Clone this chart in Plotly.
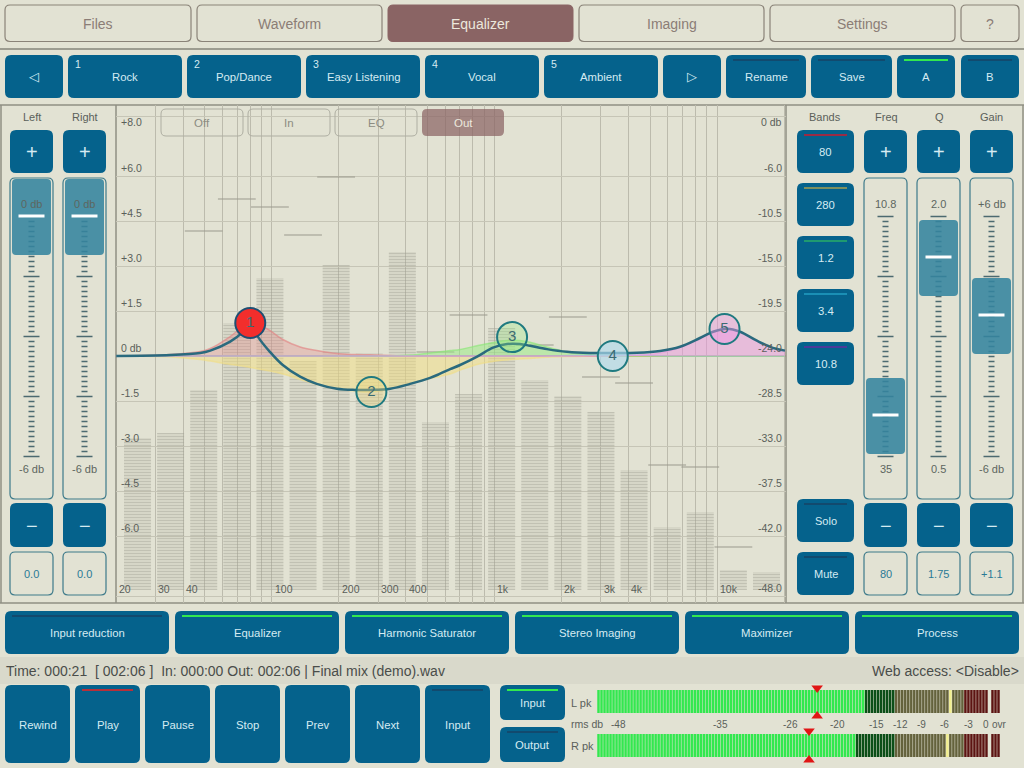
import math

import plotly.graph_objects as go

# spectrum bars (right hand scale, db)
band_labels = ["25", "35", "50", "71", "100", "141", "200", "283", "400", "566",
               "800", "1.1k", "1.6k", "2.3k", "3.2k", "4.5k", "6.4k", "9k", "12.8k", "18k"]
band_db = [-32.2, -31.7, -27.4, -20.7, -16.2, -24.5, -14.9, -23.7, -13.6, -30.6,
           -27.8, -21.2, -26.4, -28.0, -29.6, -35.4, -41.1, -39.6, -45.4, -45.6]
peak_db = [None, None, -11.5, -8.3, -9.1, -11.9, -6.1, None, None, -23.6,
           -19.9, None, -22.9, -20.1, -26.1, -26.7, -34.9, -35.1, -43.1, None]
floor_db = -47.4

# eq curves (freq in Hz, gain in db)
eq_freq = [20, 35, 47.7, 52.9, 65, 73.4, 80, 86.8, 98, 112,
           134, 159, 196, 237, 276, 340, 418, 514, 570, 632,
           701, 836, 986, 1140, 1300, 1445, 1722, 2118, 2687, 3412,
           4365, 5546, 6823, 8375, 9594, 11090, 12680, 15100, 17820, 20180]
eq_total = [0, .03, .1, .18, .48, .77, 1.1, .63, .14, -.3,
            -.69, -.93, -1.09, -1.13, -1.13, -1.09, -.93, -.73, -.59, -.44,
            -.3, -.02, .28, .4, .4, .34, .23, .14, .1, .1,
            .11, .17, .31, .6, .81, .91, .81, .51, .27, .18]
eq_band1 = [0, .05, .15, .25, .65, .95, 1.1, 1.05, .85, .55,
            .3, .18, .08, .05, .04, .02, 0, 0, 0, 0,
            0, 0, 0, 0, 0, 0, 0, 0, 0, 0,
            0, 0, 0, 0, 0, 0, 0, 0, 0, 0]
eq_band2 = [0, -.03, -.12, -.17, -.28, -.33, -.38, -.43, -.5, -.6,
            -.78, -.95, -1.1, -1.17, -1.2, -1.1, -.92, -.75, -.68, -.6,
            -.47, -.28, -.18, -.13, -.1, -.08, -.04, -.02, 0, 0,
            0, 0, 0, 0, 0, 0, 0, 0, 0, 0]
eq_band3 = [0, 0, 0, 0, 0, 0, 0, 0, 0, 0,
            0, 0, 0, 0, 0, 0, .03, .1, .14, .18,
            .22, .34, .45, .52, .52, .46, .3, .13, .04, .01,
            0, 0, 0, 0, 0, 0, 0, 0, 0, 0]
eq_band4 = [0, 0, 0, 0, 0, 0, 0, 0, 0, 0,
            0, 0, 0, 0, 0, 0, 0, 0, 0, 0,
            0, 0, 0, 0, 0, 0, 0, .01, .03, .04,
            .03, .01, 0, 0, 0, 0, 0, 0, 0, 0]
eq_band5 = [0, 0, 0, 0, 0, 0, 0, 0, 0, 0,
            0, 0, 0, 0, 0, 0, 0, 0, 0, 0,
            0, 0, 0, 0, 0, 0, 0, 0, 0, 0,
            .03, .1, .28, .57, .8, .91, .8, .5, .27, .18]

node_freq = [80, 280, 1200, 3400, 10800]
node_gain = [1.1, -1.2, .63, 0, .9]
node_names = ["1", "2", "3", "4", "5"]

freq_grid = [30, 40, 50, 60, 70, 80, 90, 100, 200, 300, 400, 500, 600, 700, 800, 900,
             1000, 2000, 3000, 4000, 5000, 6000, 7000, 8000, 9000, 10000, 20000]
freq_tick_vals = [20, 30, 40, 100, 200, 300, 400, 1000, 2000, 3000, 4000, 10000]
freq_tick_text = ["20", "30", "40", "100", "200", "300", "400", "1k", "2k", "3k", "4k", "10k"]
gain_grid = [8, 6, 4.5, 3, 1.5, -1.5, -3, -4.5, -6, -8]
gain_tick_vals = [8, 6, 4.5, 3, 1.5, 0, -1.5, -3, -4.5, -6]
gain_tick_text = ["+8.0", "+6.0", "+4.5", "+3.0", "+1.5", "0 db", "-1.5", "-3.0", "-4.5", "-6.0"]
level_tick_vals = [0, -6, -10.5, -15, -19.5, -24, -28.5, -33, -37.5, -42, -48]
level_tick_text = ["0 db", "-6.0", "-10.5", "-15.0", "-19.5", "-24.0", "-28.5", "-33.0", "-37.5", "-42.0", "-48.0"]

# level meters: number of segments per colour zone
meter_zones = ["lit", "dim", "olive", "yellow", "olive", "red", "gap", "red"]
meter_left = [89, 10, 18, 1, 4, 8, 1, 3]
meter_right = [86, 13, 17, 1, 5, 8, 1, 3]
meter_peak_left = 72.7
meter_peak_right = 70
meter_scale = ["-48", "-35", "-26", "-20", "-15", "-12", "-9", "-6", "-3", "0", "ovr"]

tabs = ["Files", "Waveform", "Equalizer", "Imaging", "Settings", "?"]
presets = ["Rock", "Pop/Dance", "Easy Listening", "Vocal", "Ambient"]
sections = ["Input reduction", "Equalizer", "Harmonic Saturator", "Stereo Imaging", "Maximizer", "Process"]
transport = ["Rewind", "Play", "Pause", "Stop", "Prev", "Next", "Input"]
band_buttons = ["80", "280", "1.2", "3.4", "10.8"]

BG = "#e2e2d3"
BLUE = "#05628c"
THUMB = "rgba(52,132,158,0.88)"
BTN_TEXT = "#d5ebf2"
NAVY = "#124a6e"
GREEN = "#33e84f"
FONT = "Liberation Sans"

shapes = []
notes = []


def X(px):
    return px / 1024


def Y(py):
    return 1 - py / 768


def rect(x0, y0, x1, y1, r=5, fill=BLUE, line=None, w=1, layer="above"):
    p = (f"M {X(x0 + r)} {Y(y0)} L {X(x1 - r)} {Y(y0)} Q {X(x1)} {Y(y0)} {X(x1)} {Y(y0 + r)} "
         f"L {X(x1)} {Y(y1 - r)} Q {X(x1)} {Y(y1)} {X(x1 - r)} {Y(y1)} "
         f"L {X(x0 + r)} {Y(y1)} Q {X(x0)} {Y(y1)} {X(x0)} {Y(y1 - r)} "
         f"L {X(x0)} {Y(y0 + r)} Q {X(x0)} {Y(y0)} {X(x0 + r)} {Y(y0)} Z")
    shapes.append(dict(type="path", xref="paper", yref="paper", path=p, fillcolor=fill,
                       line=dict(color=line or "rgba(0,0,0,0)", width=w if line else 0), layer=layer))


def hline(x0, x1, y, color, w=2, layer="above"):
    shapes.append(dict(type="line", xref="paper", yref="paper", x0=X(x0), x1=X(x1), y0=Y(y), y1=Y(y),
                       line=dict(color=color, width=w), layer=layer))


def vline(x, y0, y1, color, w=1.5, layer="above"):
    shapes.append(dict(type="line", xref="paper", yref="paper", x0=X(x), x1=X(x), y0=Y(y0), y1=Y(y1),
                       line=dict(color=color, width=w), layer=layer))


def label(x, y, text, size=12, color=BTN_TEXT, anchor="center"):
    notes.append(dict(xref="paper", yref="paper", x=X(x), y=Y(y), text=text, showarrow=False,
                      xanchor=anchor, yanchor="middle", borderpad=0,
                      font=dict(family=FONT, size=size, color=color)))


def button(x0, y0, x1, y1, text, size=11.3, mark=None):
    rect(x0, y0, x1, y1, r=6, fill=BLUE)
    if mark:
        hline(x0 + 7, x1 - 7, y0 + 5, mark)
    label((x0 + x1) / 2, (y0 + y1) / 2 + 0.5, text, size)


def slider(x0, thumb_y, value_top, value_bottom):
    rect(x0, 178, x0 + 43, 499, r=5, fill="rgba(0,0,0,0)", line="#3d7a8a", w=1.2)
    cx = x0 + 21.5
    p = ""
    for i in range(49):
        py = 216.5 + i * 5
        half = 8 if i % 12 == 0 else 3
        p += f"M {X(cx - half)} {Y(py)} L {X(cx + half)} {Y(py)} "
    shapes.append(dict(type="path", xref="paper", yref="paper", path=p, line=dict(color="#4c6a70", width=1.5), layer="above"))
    label(cx, 204, value_top, 11, "#5d6660")
    label(cx, 469, value_bottom, 11, "#5d6660")
    rect(x0 + 2, thumb_y - 37, x0 + 41, thumb_y + 39, r=4, fill=THUMB)
    hline(cx - 13, cx + 13, thumb_y, "#ffffff", 3)


# background and panels
rect(0, 657, 1024, 684, r=0, fill="#d9d9cb", layer="below")
hline(0, 1024, 49, "#9c9c90", 2, "below")
hline(0, 1024, 105, "#8f8f83", 1.5, "below")
hline(0, 1024, 603, "#8f8f83", 1.5, "below")
vline(1, 105, 603, "#8f8f83", 1.5, "below")
vline(1023, 105, 603, "#8f8f83", 1.5, "below")
vline(116, 105, 603, "#8f8f83", 1.5, "below")
vline(786, 105, 603, "#8f8f83", 1.5, "below")

# tabs
tab_x = [(5, 191), (197, 382), (388, 573), (579, 764), (770, 955), (961, 1019)]
for (x0, x1), name in zip(tab_x, tabs):
    if name == "Equalizer":
        rect(x0, 5, x1, 41.5, r=5, fill="#8a6464", line="#8a6464")
        label((x0 + x1) / 2, 23.5, name, 14, "#ece8dd")
    else:
        rect(x0, 5, x1, 41.5, r=5, fill="rgba(0,0,0,0)", line="#8a8378", w=1.2)
        label((x0 + x1) / 2, 23.5, name, 14, "#8b7d76")

# preset row
button(5, 55, 63, 98, "◁", 13)
for i, name in enumerate(presets):
    x0 = 68 + i * 119
    button(x0, 55, x0 + 114, 98, name)
    label(x0 + 6, 64, str(i + 1), 10.5, BTN_TEXT, "left")
button(663, 55, 721, 98, "▷", 13)
button(726, 55, 806, 98, "Rename", mark=NAVY)
button(811, 55, 892, 98, "Save", mark=NAVY)
button(897, 55, 955, 98, "A", mark=GREEN)
button(961, 55, 1019, 98, "B", mark=NAVY)

# display mode switches over the plot
for x0, name in zip([161, 248, 335], ["Off", "In", "EQ"]):
    rect(x0, 109, x0 + 82, 136, r=5, fill="rgba(0,0,0,0)", line="#aeaea2", w=1)
    label(x0 + 41, 123.5, name, 11.5, "#8c8c82")
rect(422, 109, 504, 136, r=5, fill="rgba(138,100,100,0.72)")
label(463, 123.5, "Out", 11.5, "#ece8dd")

# left column
label(32, 117, "Left", 11, "#5a5f5a")
label(85, 117, "Right", 11, "#5a5f5a")
for x0, val in [(10, "0.0"), (63, "0.0")]:
    button(x0, 130, x0 + 43, 173, "+", 20)
    slider(x0, 216, "0 db", "-6 db")
    button(x0, 503, x0 + 43, 547, "−", 20)
    rect(x0, 552, x0 + 43, 595, r=5, fill="rgba(0,0,0,0)", line="#3d7a8a", w=1.2)
    label(x0 + 21.5, 573.5, val, 11, "#2a7a96")

# right column
label(825, 117, "Bands", 11, "#5a5f5a")
label(886, 117, "Freq", 11, "#5a5f5a")
label(939, 117, "Q", 11, "#5a5f5a")
label(991, 117, "Gain", 11, "#5a5f5a")
band_y = [130, 183, 236, 289, 342]
band_marks = ["#9a2b45", "#7d9060", "#1f9a70", "#1a8fb5", "#4a3a9a"]
for y0, name, mark in zip(band_y, band_buttons, band_marks):
    button(797, y0, 854, y0 + 43, name, mark=mark)
button(797, 499, 854, 542, "Solo", 11, NAVY)
button(797, 552, 854, 595, "Mute", 11, NAVY)
columns = [(864, 415, "10.8", "35", "80"), (917, 257, "2.0", "0.5", "1.75"), (970, 315, "+6 db", "-6 db", "+1.1")]
for x0, thumb, hi, lo, val in columns:
    button(x0, 130, x0 + 43, 173, "+", 20)
    slider(x0, thumb, hi, lo)
    button(x0, 503, x0 + 43, 547, "−", 20)
    rect(x0, 552, x0 + 43, 595, r=5, fill="rgba(0,0,0,0)", line="#3d7a8a", w=1.2)
    label(x0 + 21.5, 573.5, val, 11, "#2a7a96")

# section row
for i, name in enumerate(sections):
    x0 = 5 + i * 170
    button(x0, 611, x0 + 164, 654, name, mark=NAVY if i == 0 else GREEN)

# status line
label(5, 671, "Time: 000:21 &nbsp;[ 002:06 ] &nbsp;In: 000:00 Out: 002:06 | Final mix (demo).wav", 14, "#4a4d4a", "left")
label(1020, 671, "Web access: &lt;Disable&gt;", 14, "#4a4d4a", "right")

# transport
for i, name in enumerate(transport):
    x0 = 5 + i * 70
    mark = "#b8303a" if name == "Play" else (NAVY if name == "Input" else None)
    button(x0, 685, x0 + 65, 763, name, mark=mark)
button(500, 685, 565, 720, "Input", mark=GREEN)
button(500, 727, 565, 762, "Output", mark=NAVY)

# meter captions
label(570, 703, "L pk", 11, "#5a5f5a", "left")
label(570, 746, "R pk", 11, "#5a5f5a", "left")
label(570, 724, "rms db", 10.5, "#5a5f5a", "left")
for px, text in zip([618, 720, 790, 837, 876, 900, 921, 944, 968, 986, 999], meter_scale):
    label(px, 724, text, 10, "#5a5f5a")

# axis captions sit just above their grid lines, or right of them for frequency
caption = dict(family=FONT, size=10.5, color="#5a5f5a")
for val, text in zip(gain_tick_vals, gain_tick_text):
    notes.append(dict(xref="paper", yref="y2", x=X(119), y=val, yshift=-6 if val == 8 else 8, text=text,
                      showarrow=False, xanchor="left", font=caption))
for val, text in zip(level_tick_vals, level_tick_text):
    notes.append(dict(xref="paper", yref="y", x=X(784), y=val, yshift=-6 if val == 0 else 8, text=text,
                      showarrow=False, xanchor="right", font=caption))
for val, text in zip(freq_tick_vals, freq_tick_text):
    notes.append(dict(xref="x2", yref="y2", x=math.log10(val), y=-7.77, xshift=1, text=text,
                      showarrow=False, xanchor="left", font=caption))

fig = go.Figure()

# spectrum
fig.add_trace(go.Bar(
    x=band_labels,
    y=[v - floor_db for v in band_db],
    base=floor_db,
    width=0.816,
    marker=dict(color="rgba(0,0,0,0)", line=dict(width=0),
                pattern=dict(shape="-", size=3, solidity=0.58, fgcolor="#a09f93", bgcolor="rgba(0,0,0,0)")),
    xaxis="x", yaxis="y",
))
fig.add_trace(go.Scatter(
    x=band_labels, y=peak_db, mode="markers", xaxis="x", yaxis="y",
    marker=dict(symbol="line-ew", size=27, line=dict(color="#9a998d", width=1)),
))

# eq bands
band_fills = [
    (eq_band1, "rgba(228,140,140,0.36)", "rgba(226,130,130,0.65)"),
    (eq_band2, "rgba(242,222,130,0.5)", "rgba(242,222,130,0.6)"),
    (eq_band3, "rgba(150,235,130,0.5)", "rgba(140,230,120,0.65)"),
    (eq_band4, "rgba(140,200,230,0.4)", "rgba(140,200,230,0.5)"),
    (eq_band5, "rgba(236,150,226,0.5)", "rgba(236,150,226,0.6)"),
]
for gains, fill, edge in band_fills:
    fig.add_trace(go.Scatter(
        x=eq_freq, y=gains, mode="lines", fill="tozeroy", fillcolor=fill,
        line=dict(color=edge, width=1.5, shape="spline"), xaxis="x2", yaxis="y2",
    ))
fig.add_trace(go.Scatter(
    x=eq_freq, y=eq_total, mode="lines", line=dict(color="#2a6a7e", width=2.5, shape="spline"),
    xaxis="x2", yaxis="y2",
))
fig.add_trace(go.Scatter(
    x=node_freq, y=node_gain, mode="markers+text", text=node_names, textposition="middle center",
    textfont=dict(family=FONT, size=15, color="#3b6b72"),
    marker=dict(size=30,
                color=["#f22e2c", "rgba(240,222,130,0.35)", "rgba(150,235,130,0.3)",
                       "rgba(175,218,236,0.65)", "rgba(236,150,226,0.45)"],
                line=dict(color=["#1d4f73", "#1f7a80", "#1f7a80", "#1f7a80", "#1f7a80"], width=2)),
    xaxis="x2", yaxis="y2",
))

# meters
zone_colors = {"lit": GREEN, "dim": "#0c4f18", "olive": "#64623c", "yellow": "#f2ef8e",
               "red": "#5c1412", "gap": "rgba(0,0,0,0)"}
for counts, base, peak, tips in [(meter_left, 51, meter_peak_left, (76, 48)),
                                 (meter_right, 7, meter_peak_right, (33, 4))]:
    colors = []
    for zone, n in zip(meter_zones, counts):
        colors += [zone_colors[zone]] * n
    fig.add_trace(go.Bar(
        x=list(range(len(colors))), y=[23] * len(colors), base=base, width=0.82,
        marker=dict(color=colors, line=dict(width=0)), xaxis="x3", yaxis="y3",
    ))
    fig.add_trace(go.Scatter(
        x=[peak, peak], y=list(tips), mode="markers", xaxis="x3", yaxis="y3",
        marker=dict(symbol=["triangle-down", "triangle-up"], size=10, color="#e01515"),
    ))

plot_x = [X(116), X(786)]
plot_y = [Y(603), Y(105)]
hidden = dict(showgrid=False, zeroline=False, showticklabels=False, ticks="", showline=False)
fig.update_layout(
    width=1024,
    height=768,
    margin=dict(l=0, r=0, t=0, b=0),
    paper_bgcolor=BG,
    plot_bgcolor="rgba(0,0,0,0)",
    showlegend=False,
    hovermode=False,
    barmode="overlay",
    shapes=shapes,
    annotations=notes,
    xaxis=dict(domain=plot_x, type="category", categoryorder="array", categoryarray=band_labels,
               range=[-0.65, 19.59], **hidden),
    yaxis=dict(domain=plot_y, range=[-48.7, 1.1], **hidden),
    xaxis2=dict(domain=plot_x, overlaying="x", type="log", range=[1.3, 4.30963],
                tickmode="array", tickvals=freq_grid, showticklabels=False, ticks="",
                showgrid=True, gridcolor="#bcbbad", gridwidth=1.2, zeroline=False),
    yaxis2=dict(domain=plot_y, overlaying="y", range=[-8.233, 8.367],
                tickmode="array", tickvals=gain_grid, showticklabels=False, ticks="",
                showgrid=True, gridcolor="#c6c5b6", gridwidth=1.2,
                zeroline=True, zerolinecolor="#a1968a", zerolinewidth=2),
    xaxis3=dict(domain=[X(597), X(1000)], range=[-0.5, 133.5], anchor="y3", **hidden),
    yaxis3=dict(domain=[Y(764), Y(684)], range=[0, 80], anchor="x3", **hidden),
)

fig.write_html("out.html", config=dict(displayModeBar=False), post_script="document.body.style.margin='0';")
